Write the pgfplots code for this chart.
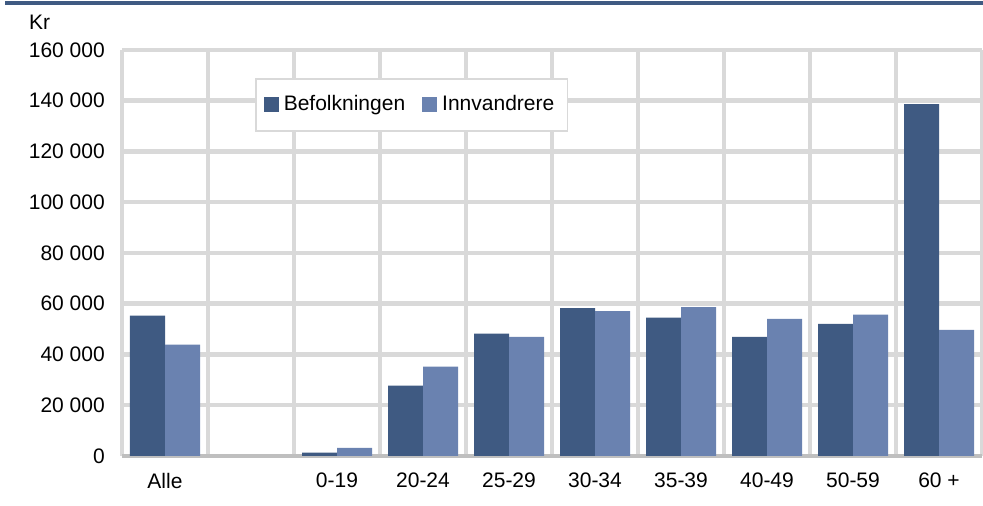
\documentclass[border=0pt]{standalone}
\usepackage{pgfplots}
\pgfplotsset{compat=1.18}
\usepackage{fontspec}
\setmainfont{Liberation Sans}

\definecolor{darkbar}{HTML}{3F5A82}
\definecolor{lightbar}{HTML}{6A82B0}
\definecolor{gridgray}{HTML}{D9D9D9}
\definecolor{basegray}{HTML}{BFBFBF}

\pgfplotsset{
  square legend/.style={
    legend image code/.code={\fill[##1] (0pt,-7.5pt) rectangle (15pt,7.5pt);}
  },
}

\begin{document}
\fontsize{21}{25}\selectfont
\begin{tikzpicture}
\path[use as bounding box] (0,0) rectangle (983pt,506pt);
% header rule and unit label
\draw[darkbar, line width=3.5pt] (5pt,503pt) -- (983pt,503pt);
\node[anchor=west, inner sep=0pt] at (29pt,484pt) {Kr};

\begin{axis}[
  at={(122pt,50pt)}, anchor=south west,
  scale only axis,
  width=860pt, height=406pt,
  ybar=0pt, bar width=0.407,
  xmin=-0.5, xmax=9.5,
  ymin=0, ymax=160000,
  xtick={0,...,9},
  xticklabels={Alle,,0-19,20-24,25-29,30-34,35-39,40-49,50-59,60 +},
  minor xtick={-0.5,0.5,...,9.5},
  ytick={0,20000,...,160000},
  yticklabels={0,20 000,40 000,60 000,80 000,100 000,120 000,140 000,160 000},
  scaled y ticks=false,
  ymajorgrids, xminorgrids,
  grid style={gridgray, line width=4.5pt},
  major tick length=0pt, minor tick length=0pt,
  axis line style={draw=none},
  y tick label style={inner sep=0pt, xshift=-17pt},
  x tick label style={inner sep=0pt, yshift=-17pt},
  clip=false,
  legend style={
    at={(0.1547,0.931)}, anchor=north west,
    draw=gridgray, line width=1.5pt, fill=white,
    inner xsep=8pt, inner ysep=15pt,
    legend columns=2,
    nodes={inner xsep=5pt},
    /tikz/every even column/.append style={column sep=12pt},
  },
  legend cell align=left,
  square legend,
]

% x axis baseline
\draw[basegray, line width=4.5pt] (axis cs:-0.5,0) -- (axis cs:9.5,0);

\addplot[fill=darkbar, draw=none] coordinates {
  (0,55300) (2,1300) (3,27700) (4,48200) (5,58300)
  (6,54500) (7,46900) (8,52100) (9,138700)
};
\addplot[fill=lightbar, draw=none] coordinates {
  (0,43900) (2,3200) (3,35200) (4,46900) (5,57100)
  (6,58700) (7,54000) (8,55700) (9,49700)
};

\legend{Befolkningen, Innvandrere}
\end{axis}
\end{tikzpicture}
\end{document}
